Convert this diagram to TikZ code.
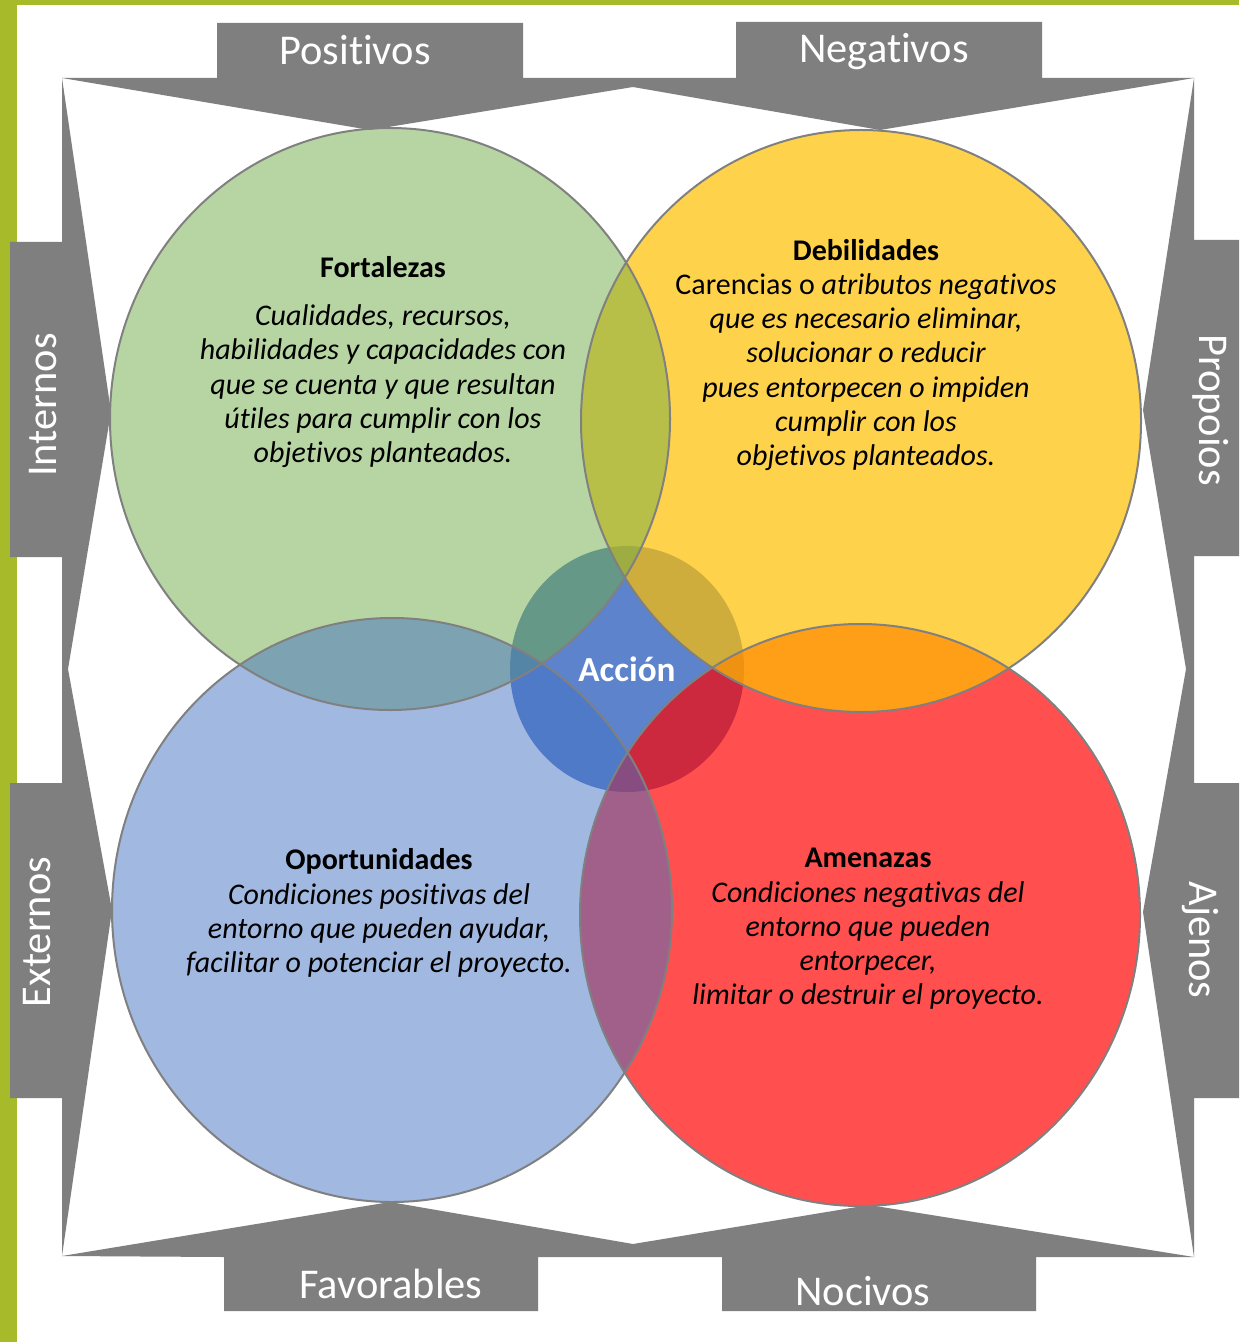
\documentclass[tikz,border=0pt]{standalone}
\usepackage{fontspec}
\setmainfont{Carlito}[Ligatures=NoCommon]
\definecolor{framegray}{RGB}{127,127,127}
\definecolor{limeband}{RGB}{167,186,41}
\definecolor{gfill}{RGB}{112,173,71}
\definecolor{yfill}{RGB}{255,192,0}
\definecolor{bfill}{RGB}{68,114,196}
\definecolor{rfill}{RGB}{255,0,0}
\definecolor{accfill}{RGB}{92,131,203}
\definecolor{ringgray}{RGB}{128,128,128}
\begin{document}
\begin{tikzpicture}[x=0.5pt,y=-0.5pt,
  band/.style={fill=framegray,draw=none},
  bandlabel/.style={text=white,font=\fontsize{21.2}{25}\selectfont,inner sep=0pt},
  ring/.style={draw=ringgray,line width=1pt},
  body/.style={align=center,inner sep=0pt,font=\fontsize{15}{17.1}\selectfont\itshape}]
\useasboundingbox (0,0) rectangle (1239,1342);
% background
\fill[limeband] (0,0) rectangle (1239,1342);
\fill[white] (17,5) rectangle (1239,1342);
% gray frame
\path[band] (62,78) -- (217,78) -- (217,23) -- (523,23) -- (523,78) -- (736,78) -- (736,22) -- (1042,22) -- (1042,78) -- (1194,78) -- (880,130) -- (633,87) -- (370,130) -- cycle;
\path[band] (62,78) -- (111,412) -- (68,669) -- (112,910) -- (62,1256) -- (62,1098) -- (10,1098) -- (10,783) -- (62,783) -- (62,557) -- (10,557) -- (10,242) -- (62,242) -- cycle;
\path[band] (1194,78) -- (1194,240) -- (1239,240) -- (1239,556) -- (1194,556) -- (1194,783) -- (1239,783) -- (1239,1098) -- (1194,1098) -- (1194,1257) -- (1143,912) -- (1186,669) -- (1143,410) -- cycle;
\path[band] (62,1256) -- (390,1202) -- (633,1244) -- (869,1205) -- (1194,1257) -- (1036,1257) -- (1036,1311) -- (722,1311) -- (722,1257) -- (538,1257) -- (538,1311) -- (224,1311) -- (224,1257) -- cycle;
% circles (fills)
\fill[accfill] (627,669) ellipse [x radius=58.5pt, y radius=61.5pt];
\fill[rfill,fill opacity=0.69] (860,915) ellipse [x radius=140pt, y radius=145.5pt];
\fill[yfill,fill opacity=0.7] (861,421) ellipse [x radius=140pt, y radius=145.5pt];
\fill[gfill,fill opacity=0.5] (390,419) ellipse [x radius=140pt, y radius=145.5pt];
\fill[bfill,fill opacity=0.5] (392,910) ellipse [x radius=140pt, y radius=146pt];
% circle outlines
\draw[ring] (860,915) ellipse [x radius=140pt, y radius=145.5pt];
\draw[ring] (861,421) ellipse [x radius=140pt, y radius=145.5pt];
\draw[ring] (390,419) ellipse [x radius=140pt, y radius=145.5pt];
\draw[ring] (392,910) ellipse [x radius=140pt, y radius=146pt];
% band labels
\node[bandlabel,anchor=base] (pos) at (355,65) {Positivos};
\node[bandlabel,anchor=base] (neg) at (884,63) {Negativos};
\node[bandlabel,anchor=base] (fav) at (391,1298) {Favorables};
\node[bandlabel,anchor=base] (noc) at (863,1305) {Nocivos};
\node[bandlabel,rotate=90] (int) at (43,405) {Internos};
\node[bandlabel,rotate=90] (ext) at (37,932) {Externos};
\node[bandlabel,rotate=-90] (pro) at (1211,410) {Propoios};
\node[bandlabel,rotate=-90] (aje) at (1200,940) {Ajenos};
% texts
\node[body] (fort) at (383,362) {{\upshape\bfseries Fortalezas}\\[7pt]
Cualidades, recursos,\\
habilidades y capacidades con\\
que se cuenta y que resultan\\
útiles para cumplir con los\\
objetivos planteados.};
\node[body] (deb) at (866,355) {{\upshape\bfseries Debilidades}\\
{\upshape Carencias o }atributos negativos\\
que es necesario eliminar,\\
solucionar o reducir\\
pues entorpecen o impiden\\
cumplir con los\\
objetivos planteados.};
\node[body] (opo) at (379,913) {{\upshape\bfseries Oportunidades}\\
Condiciones positivas del\\
entorno que pueden ayudar,\\
facilitar o potenciar el proyecto.};
\node[body] (ame) at (868,929) {{\upshape\bfseries Amenazas}\\
Condiciones negativas del\\
entorno que pueden\\
entorpecer,\\
limitar o destruir el proyecto.};
\node[text=white,font=\fontsize{17.6}{20}\selectfont\bfseries,inner sep=0pt] (acc) at (627,669) {Acción};
\end{tikzpicture}
\end{document}
